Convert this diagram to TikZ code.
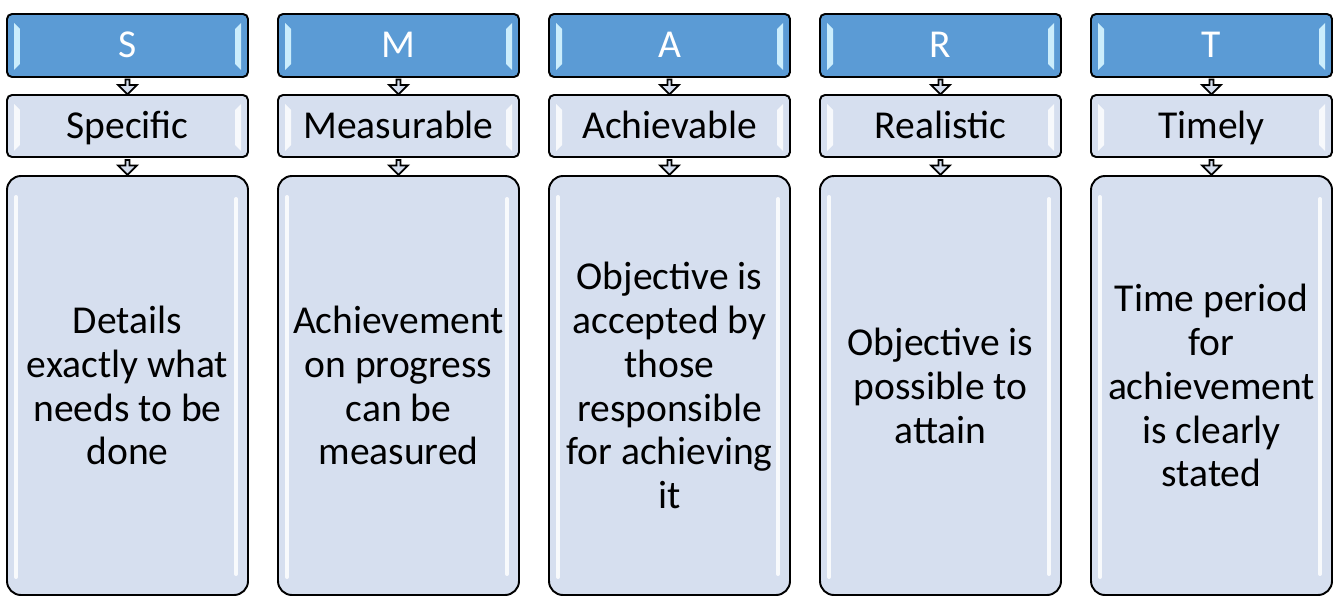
\documentclass[tikz,border=0pt]{standalone}
\usepackage{fontspec}
\setmainfont{Carlito}
\usetikzlibrary{positioning, shapes.arrows}

\definecolor{smartBlue}{HTML}{5B9BD5}
\definecolor{smartPale}{HTML}{D6DFEF}
\definecolor{smartGlow}{HTML}{CBEDFC}

\tikzset{
  bevel/.style={path picture={
      \fill[#1, sharp corners] ([shift={(0.14,-0.18)}]path picture bounding box.north west)
        -- ++(0.12,-0.12) -- ++(0,-0.7) -- ++(-0.12,-0.12) -- cycle;
      \fill[#1, sharp corners] ([shift={(-0.14,-0.18)}]path picture bounding box.north east)
        -- ++(-0.12,-0.12) -- ++(0,-0.7) -- ++(0.12,-0.12) -- cycle;
  }},
  smartbox/.style={draw=black, line width=1.1pt, minimum width=4.82cm, inner sep=0pt,
    outer sep=0pt, align=center, font=\fontsize{22.5}{25}\selectfont},
  letterbox/.style={smartbox, fill=smartBlue, text=white, rounded corners=0.1cm,
    minimum height=1.26cm, text height=0.62cm, text depth=0.14cm, bevel=smartGlow},
  wordbox/.style={smartbox, fill=smartPale, rounded corners=0.1cm,
    minimum height=1.24cm, text height=0.62cm, text depth=0.14cm, bevel=white!80!smartPale},
  notebox/.style={smartbox, fill=smartPale, rounded corners=0.28cm, minimum height=8.38cm,
    path picture={
      \draw[white, opacity=0.85, line width=0.08cm, line cap=round]
        ([shift={(0.18,-0.42)}]path picture bounding box.north west) -- ++(0,-7.6);
      \draw[white, opacity=0.85, line width=0.08cm, line cap=round]
        ([shift={(-0.24,-0.46)}]path picture bounding box.north east) -- ++(0,-7.5);
  }},
  downarrow/.style={shape=single arrow, shape border rotate=270, draw=black,
    line width=1pt, fill=smartPale, minimum height=0.3cm, minimum width=0.38cm,
    single arrow head extend=0.07cm, inner sep=0pt}
}

\begin{document}
\begin{tikzpicture}
  \useasboundingbox (0,0) rectangle (26.68,11.94);

  % Letter row
  \node[letterbox] (S) at (2.55,11.03) {S};
  \node[letterbox, right=0.6cm of S] (M) {M};
  \node[letterbox, right=0.6cm of M] (A) {A};
  \node[letterbox, right=0.6cm of A] (R) {R};
  \node[letterbox, right=0.6cm of R] (T) {T};

  % Word row
  \node[wordbox, below=0.36cm of S] (specific) {Specific};
  \node[wordbox, below=0.36cm of M] (measurable) {Measurable};
  \node[wordbox, below=0.36cm of A] (achievable) {Achievable};
  \node[wordbox, below=0.36cm of R] (realistic) {Realistic};
  \node[wordbox, below=0.36cm of T] (timely) {Timely};

  % Descriptions
  \node[notebox, below=0.38cm of specific] (sNote) {Details\\exactly what\\needs to be\\done};
  \node[notebox, below=0.38cm of measurable] (mNote) {Achievement\\on progress\\can be\\measured};
  \node[notebox, below=0.38cm of achievable] (aNote) {Objective is\\accepted by\\those\\responsible\\for achieving\\it};
  \node[notebox, below=0.38cm of realistic] (rNote) {Objective is\\possible to\\attain};
  \node[notebox, below=0.38cm of timely] (tNote) {Time period\\for\\achievement\\is clearly\\stated};

  % Arrows
  \path (S) -- node[downarrow] {} (specific);
  \path (M) -- node[downarrow] {} (measurable);
  \path (A) -- node[downarrow] {} (achievable);
  \path (R) -- node[downarrow] {} (realistic);
  \path (T) -- node[downarrow] {} (timely);
  \path (specific) -- node[downarrow] {} (sNote);
  \path (measurable) -- node[downarrow] {} (mNote);
  \path (achievable) -- node[downarrow] {} (aNote);
  \path (realistic) -- node[downarrow] {} (rNote);
  \path (timely) -- node[downarrow] {} (tNote);
\end{tikzpicture}
\end{document}
